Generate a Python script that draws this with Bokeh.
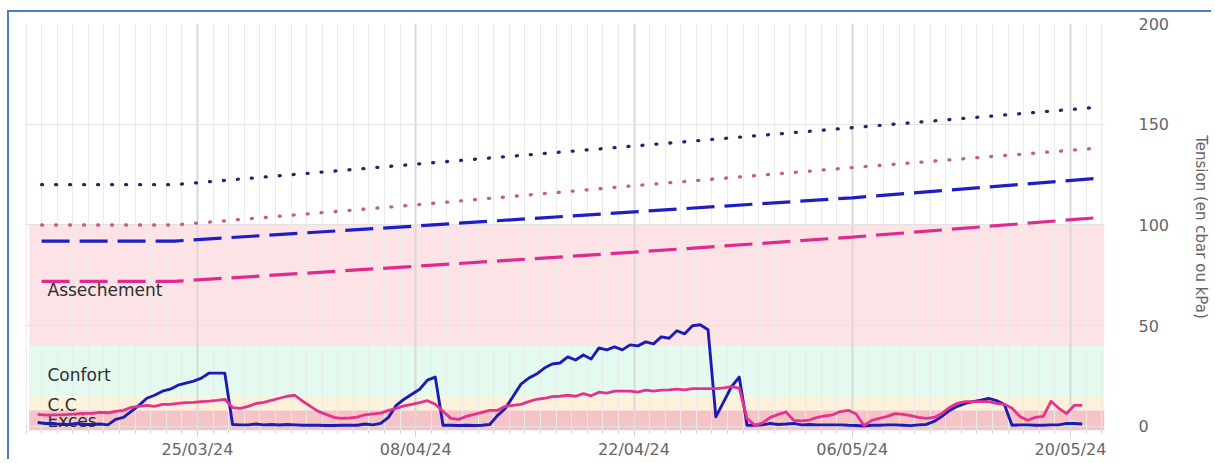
import pandas as pd
from bokeh.plotting import figure
from bokeh.models import BoxAnnotation, Label, FixedTicker, DatetimeTickFormatter, Range1d
from bokeh.embed import file_html
from bokeh.resources import INLINE

# ---------------- data ----------------
series_start = "2024-03-14 18:00"
series_step = "12h"

blue_tension = [
    2.0, 1.5, 1.5, 1.0, 1.0, 1.5, 1.0, 1.0, 1.2, 0.8,
    3.5, 4.5, 7.5, 10.5, 14.0, 15.5, 17.5, 18.5, 20.5, 21.5,
    22.5, 24.0, 26.5, 26.5, 26.5, 1.0, 0.8, 0.8, 1.2, 0.8,
    1.0, 0.7, 1.0, 0.8, 0.6, 0.6, 0.6, 0.5, 0.5, 0.6,
    0.6, 0.6, 1.2, 0.8, 1.5, 4.5, 10.5, 13.5, 16.0, 18.5,
    23.0, 24.5, 0.6, 0.6, 0.5, 0.6, 0.5, 0.6, 1.0, 5.5,
    9.0, 15.0, 21.0, 24.0, 26.0, 29.0, 31.0, 31.5, 34.5, 33.0,
    35.5, 33.5, 39.0, 38.0, 39.5, 38.0, 40.5, 40.0, 42.0, 41.0,
    44.5, 43.8, 47.5, 46.0, 50.0, 50.5, 48.0, 4.8, 12.2, 19.7,
    24.5, 0.6, 0.6, 0.8, 1.5, 1.0, 1.2, 1.5, 0.8, 1.0,
    0.8, 0.8, 0.8, 0.8, 0.6, 0.5, 0.2, 0.6, 0.6, 0.8,
    0.8, 0.6, 0.4, 0.8, 1.0, 2.5, 5.0, 8.0, 10.0, 11.5,
    12.3, 13.0, 13.9, 12.8, 11.0, 0.6, 0.8, 0.8, 0.6, 0.6,
    0.8, 0.8, 1.5, 1.5, 1.2,
]

pink_tension = [
    6.0, 5.6, 5.8, 5.8, 6.0, 6.2, 6.5, 6.5, 7.0, 6.8,
    7.5, 8.0, 9.5, 10.0, 10.5, 10.0, 11.0, 11.0, 11.5, 11.8,
    12.0, 12.3, 12.6, 13.0, 13.5, 9.4, 9.0, 10.0, 11.4, 12.0,
    13.0, 14.0, 15.0, 15.5, 12.5, 10.0, 7.5, 6.0, 4.5, 4.0,
    4.2, 4.6, 5.8, 6.2, 6.6, 8.0, 9.0, 10.2, 11.0, 11.8,
    12.8, 11.0, 7.5, 4.0, 3.5, 5.0, 6.0, 7.0, 8.0, 8.0,
    10.0, 10.5, 11.0, 12.3, 13.5, 14.0, 14.8, 15.0, 15.5, 15.0,
    16.3, 15.2, 17.0, 16.5, 17.5, 17.5, 17.5, 17.0, 18.0, 17.5,
    18.0, 18.2, 18.5, 18.2, 18.8, 18.8, 18.8, 18.8, 19.2, 19.8,
    19.0, 4.0, 0.6, 1.8, 4.5, 6.0, 7.2, 3.0, 2.8, 3.2,
    4.5, 5.2, 5.8, 7.4, 8.0, 6.2, 0.5, 3.0, 4.0, 5.0,
    6.4, 6.0, 5.4, 4.5, 4.0, 4.5, 6.5, 9.5, 11.5, 12.3,
    12.3, 12.3, 12.3, 11.5, 11.0, 9.0, 5.0, 3.1, 4.5, 5.0,
    12.5, 9.0, 6.4, 10.5, 10.5,
]

threshold_dates = ["2024-03-15 00:00", "2024-03-23 12:00", "2024-04-08 00:00",
                   "2024-04-22 00:00", "2024-05-06 00:00", "2024-05-21 12:00"]
blue_dotted = [120.0, 120.0, 130.2, 139.2, 148.3, 158.3]
pink_dotted = [100.0, 100.0, 110.0, 119.5, 128.5, 138.0]
blue_dashed = [92.0, 92.0, 99.5, 106.5, 113.5, 123.0]
pink_dashed = [72.0, 72.0, 79.5, 86.5, 94.0, 103.5]

band_names = ["Excès", "C.C", "Confort", "Assechement"]
band_lower = [None, 8, 15, 40]
band_upper = [8, 15, 40, 100]

x_tick_dates = ["2024-03-25", "2024-04-08", "2024-04-22", "2024-05-06", "2024-05-20"]
y_ticks = [0, 50, 100, 150, 200]

# ---------------- styling / layout ----------------
band_colors = ["#f6c4c7", "#fcf1da", "#e4faef", "#fde3e6"]
band_label_y = [2.7, 10.6, 25.3, 67.5]
BLUE = "#1c1cb4"
PINK = "#e5338d"
FONT = "DejaVu Sans"


def ms(d):
    return int(pd.Timestamp(d).timestamp() * 1000)


dates = pd.date_range(series_start, periods=len(blue_tension), freq=series_step)
thr = pd.to_datetime(threshold_dates)

x0 = pd.Timestamp("2024-03-13 21:40")
x1 = pd.Timestamp("2024-05-22 04:20")
band_x0 = pd.Timestamp("2024-03-14 05:00")

p = figure(width=1204, height=449, x_axis_type="datetime", y_axis_location="right",
           x_range=Range1d(x0, x1), y_range=Range1d(-2, 200),
           output_backend="svg", toolbar_location=None,
           min_border_left=15, min_border_top=11, min_border_right=109, min_border_bottom=31)
p.styles = {"margin-left": "7px", "margin-top": "10px",
            "border-top": "2px solid #4a7bd1", "border-left": "2px solid #4a7bd1"}
p.outline_line_color = None
p.background_fill_color = "white"
p.border_fill_color = "white"

# bands
for lo, hi, col in zip(band_lower, band_upper, band_colors):
    p.add_layout(BoxAnnotation(left=band_x0, bottom=lo, top=hi, fill_color=col, fill_alpha=1.0,
                               line_color=None, level="image"))

# band labels
for name, yv in zip(band_names, band_label_y):
    p.add_layout(Label(x=x0, y=yv, x_offset=23, text=name, text_baseline="middle",
                       text_font=FONT, text_font_size="17px", text_color="#2e2e2e",
                       level="underlay"))

# threshold curves
p.line(thr, blue_dotted, line_color="#25256e", line_width=3.3, line_dash="1 13", line_cap="round")
p.line(thr, pink_dotted, line_color="#c45c8c", line_width=3.3, line_dash="1 13", line_cap="round")
p.line(thr, blue_dashed, line_color="#1e1ec8", line_width=3.2, line_dash="28 10")
p.line(thr, pink_dashed, line_color="#e02a8f", line_width=3.2, line_dash="28 10")

# sensor series
p.line(dates, blue_tension, line_color=BLUE, line_width=2.9, line_join="round")
p.line(dates, pink_tension, line_color=PINK, line_width=2.8, line_join="round")

# x axis
xt = FixedTicker(ticks=[ms(d) for d in x_tick_dates],
                 minor_ticks=[ms(d) for d in pd.date_range("2024-03-14", "2024-05-22", freq="D")])
p.xaxis.ticker = xt
p.xgrid.ticker = xt
fmt = "%d/%m/%y"
p.xaxis.formatter = DatetimeTickFormatter(
    milliseconds=fmt, seconds=fmt, minsec=fmt, minutes=fmt, hourmin=fmt, hours=fmt,
    days=fmt, months=fmt, years=fmt)
p.xaxis.axis_line_color = None
p.xaxis.major_tick_line_color = "#d6d6d6"
p.xaxis.major_tick_in = 0
p.xaxis.major_tick_out = 7
p.xaxis.minor_tick_line_color = "#cfcfcf"
p.xaxis.minor_tick_in = 0
p.xaxis.minor_tick_out = 3
p.xaxis.major_label_standoff = 2
p.xaxis.major_label_text_font = FONT
p.xaxis.major_label_text_font_size = "16px"
p.xaxis.major_label_text_color = "#666666"

p.xgrid.grid_line_color = "#d9d9d9"
p.xgrid.grid_line_width = 2
p.xgrid.minor_grid_line_color = "#ebebeb"
p.xgrid.minor_grid_line_width = 1

# y axis (right)
yt = FixedTicker(ticks=y_ticks)
p.yaxis.ticker = yt
p.ygrid.ticker = yt
p.yaxis.axis_line_color = None
p.yaxis.major_tick_line_color = None
p.yaxis.minor_tick_line_color = None
p.yaxis.major_label_standoff = 28
p.yaxis.major_label_text_font = FONT
p.yaxis.major_label_text_font_size = "16px"
p.yaxis.major_label_text_color = "#666666"
p.yaxis.axis_label = "Tension (en cbar ou kPa)"
p.yaxis.axis_label_text_font = FONT
p.yaxis.axis_label_text_font_size = "15px"
p.yaxis.axis_label_text_font_style = "normal"
p.yaxis.axis_label_text_color = "#666666"
p.yaxis.axis_label_standoff = 20
p.ygrid.grid_line_color = "#e3e3e3"
p.ygrid.grid_line_width = 1

open("out.html", "w").write(file_html(p, INLINE))
